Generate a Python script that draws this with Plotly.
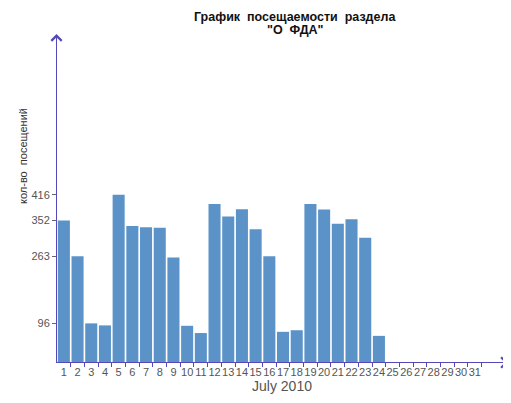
import plotly.graph_objects as go

# Visits per day, July 2010
days = list(range(1, 32))
visits = [352, 263, 96, 91, 416, 338, 335, 334, 260, 90, 72, 393, 362, 380, 330,
          263, 75, 79, 393, 379, 344, 355, 309, 65, 0, 0, 0, 0, 0, 0, 0]
y_ticks = [96, 263, 352, 416]

axis_color = '#5548b8'
bar_color = '#5b93c8'

fig = go.Figure()
fig.add_trace(go.Bar(
    x=days,
    y=visits,
    width=0.88,
    marker=dict(color=bar_color, line=dict(width=0)),
))

# page body adds an 8px offset, so margins are trimmed to compensate
fig.update_layout(
    width=511,
    height=403,
    margin=dict(l=49, r=12, t=29, b=49),
    paper_bgcolor='white',
    plot_bgcolor='white',
    showlegend=False,
    font=dict(family='Arial, Liberation Sans, sans-serif', size=12, color='#444444'),
)

fig.update_xaxes(
    range=[0.5, 33.35],
    automargin=False,
    tickmode='array',
    tickvals=days,
    ticktext=[str(d) for d in days],
    tickangle=0,
    ticks='',
    tickfont=dict(size=11, color='#555555'),
    showline=True,
    linecolor=axis_color,
    linewidth=1,
    showgrid=False,
    zeroline=False,
    minor=dict(tickmode='array', tickvals=[d + 0.5 for d in days],
               ticks='outside', ticklen=4, tickcolor=axis_color, tickwidth=1),
    title=dict(text='July 2010', font=dict(size=14, color='#555555'), standoff=0),
)

fig.update_yaxes(
    range=[0, 808],
    automargin=False,
    tickmode='array',
    tickvals=y_ticks,
    ticks='outside',
    ticklen=4,
    tickcolor='#666666',
    tickfont=dict(size=11, color='#555555'),
    showline=True,
    linecolor=axis_color,
    linewidth=1,
    showgrid=False,
    zeroline=False,
)

# axis arrows (nudged half a pixel to sit on the crisp axis lines)
fig.add_annotation(x=-0.5 / 450, y=1.009, xref='paper', yref='paper', ax=0, ay=40,
                   showarrow=True, arrowhead=4, arrowsize=2, arrowwidth=1,
                   arrowcolor=axis_color, text='')
fig.add_annotation(x=1.002, y=-0.5 / 325, xref='paper', yref='paper', ax=-40, ay=0,
                   showarrow=True, arrowhead=4, arrowsize=2, arrowwidth=1,
                   arrowcolor=axis_color, text='')

# titles
title_x = 0.529
fig.add_annotation(x=title_x, y=1 + 29 / 325, xref='paper', yref='paper',
                   yanchor='top', showarrow=False,
                   text='<b>График  посещаемости  раздела</b>',
                   font=dict(size=12.5, color='#111111'))
fig.add_annotation(x=title_x, y=1 + 16 / 325, xref='paper', yref='paper',
                   yanchor='top', showarrow=False,
                   text='<b>"О  ФДА"</b>',
                   font=dict(size=12.5, color='#111111'))
fig.add_annotation(x=-42 / 450, y=(362 - 156) / 325, xref='paper', yref='paper',
                   showarrow=False, textangle=-90,
                   text='кол-во  посещений',
                   font=dict(size=11, color='#333333'))

fig.write_html("out.html")
